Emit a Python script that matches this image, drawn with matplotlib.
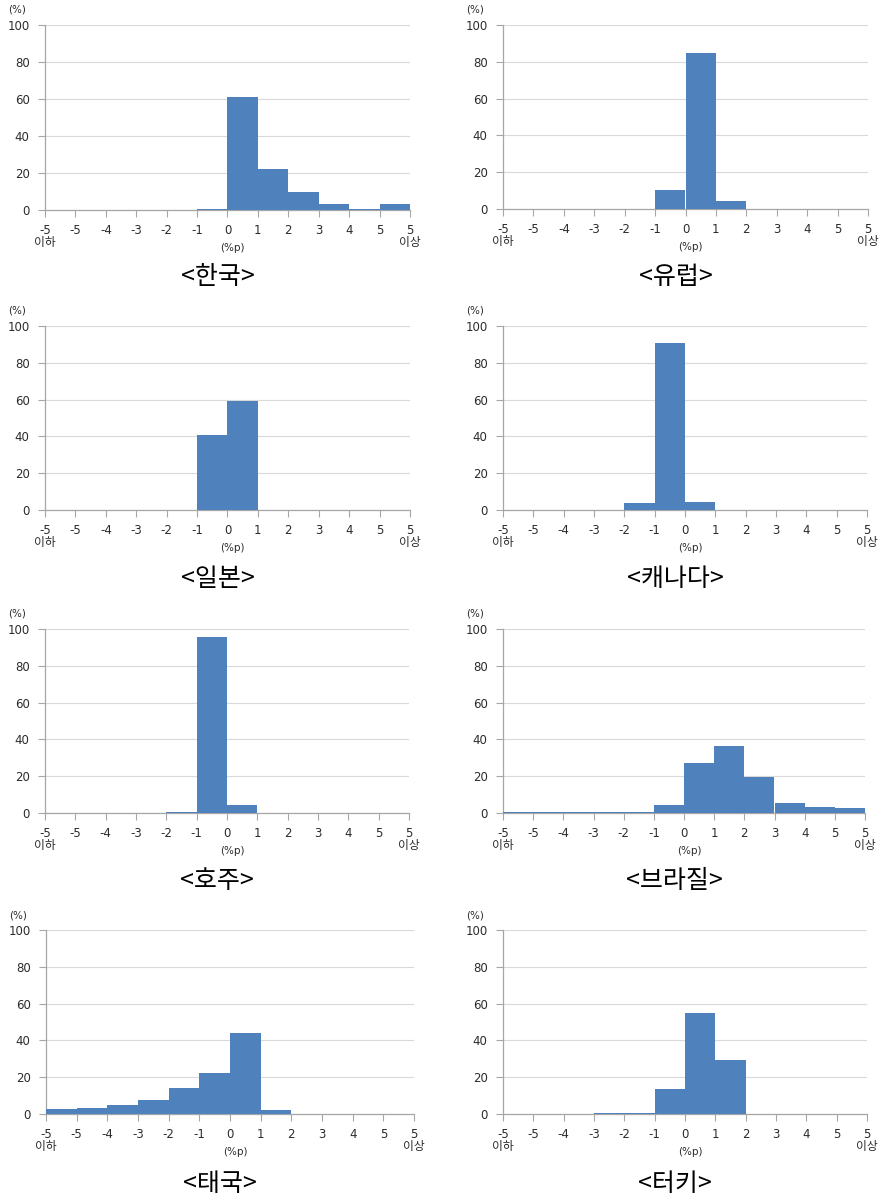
import numpy as np
import matplotlib
matplotlib.use('Agg')
import matplotlib.pyplot as plt

plt.rcParams['font.family'] = ['DejaVu Sans', 'Noto Sans CJK KR']

# x axis edge labels (13 edges -> 12 bins)
edge_labels = ['-5\n이하', '-5', '-4', '-3', '-2', '-1', '0', '1', '2', '3', '4', '5', '5\n이상']

countries = ['한국', '유럽', '일본', '캐나다', '호주', '브라질', '태국', '터키']

korea = [0, 0, 0, 0, 0, 0.5, 61, 22, 10, 3, 0.8, 3.5]
europe = [0, 0, 0, 0, 0, 10.5, 85, 4.5, 0, 0, 0, 0]
japan = [0, 0, 0, 0, 0, 40.5, 59.5, 0, 0, 0, 0, 0]
canada = [0, 0, 0, 0, 4, 90.5, 4.5, 0, 0, 0, 0, 0]
australia = [0, 0, 0, 0, 0.5, 95.5, 4.5, 0, 0, 0, 0, 0]
brazil = [0.8, 0.8, 0.8, 0.8, 0.8, 4.5, 27, 36.5, 19.5, 5.5, 3, 2.5]
thailand = [2.5, 3.5, 5, 7.5, 14, 22.5, 44, 2, 0, 0, 0, 0]
turkey = [0, 0, 0, 0.5, 0.5, 13.5, 55, 29.5, 0, 0, 0, 0]

series = [korea, europe, japan, canada, australia, brazil, thailand, turkey]

W, H = 884, 1199
fig = plt.figure(figsize=(W / 100, H / 100), dpi=100)

# axes boxes in pixels: left, top, right, bottom
boxes = [
    (45, 25, 410, 210), (503, 25, 868, 209),
    (45, 326, 410, 510), (503, 326, 867, 510),
    (45, 629, 409, 813), (503, 629, 865, 813),
    (46, 930, 414, 1114), (503, 930, 867, 1114),
]
caption_y = [277, 277, 579, 579, 881, 881, 1184, 1184]

bar_color = '#4F81BD'
axis_gray = '#A6A6A6'
text_col = '#2B2B2B'

for i, (name, vals) in enumerate(zip(countries, series)):
    l, t, r, b = boxes[i]
    ax = fig.add_axes([l / W, 1 - b / H, (r - l) / W, (b - t) / H])
    x = np.arange(len(vals)) + 0.5
    ax.bar(x, vals, width=1.0, color=bar_color, edgecolor='none', zorder=3)
    ax.set_xlim(0, 12)
    ax.set_ylim(0, 100)
    ax.set_yticks([0, 20, 40, 60, 80, 100])
    ax.set_xticks(np.arange(13))
    ax.set_xticklabels(edge_labels, fontsize=8.5, color=text_col, linespacing=0.9)
    ax.tick_params(axis='y', labelsize=8.5, labelcolor=text_col, length=5,
                   color=axis_gray, direction='out', pad=6)
    ax.tick_params(axis='x', length=5, color=axis_gray, direction='out', pad=5)
    ax.yaxis.grid(True, color='#D9D9D9', linewidth=0.8, zorder=0)
    ax.set_axisbelow(True)
    for side in ['top', 'right']:
        ax.spines[side].set_visible(False)
    for side in ['left', 'bottom']:
        ax.spines[side].set_color(axis_gray)
        ax.spines[side].set_linewidth(0.9)
    # unit labels
    fig.text((l - 37) / W, 1 - (t - 15) / H, '(%)', fontsize=7.5, color=text_col,
             ha='left', va='center')
    fig.text(((l + r) / 2 + 5) / W, 1 - (b + 38) / H, '(%p)', fontsize=7.5, color=text_col,
             ha='center', va='center')
    fig.text(((l + r) / 2 - 10) / W, 1 - caption_y[i] / H, '<' + name + '>',
             fontsize=18, color='black', ha='center', va='center',
             family=['Noto Sans CJK KR', 'DejaVu Sans'])

fig.savefig('out.png', dpi=100, facecolor='white')
